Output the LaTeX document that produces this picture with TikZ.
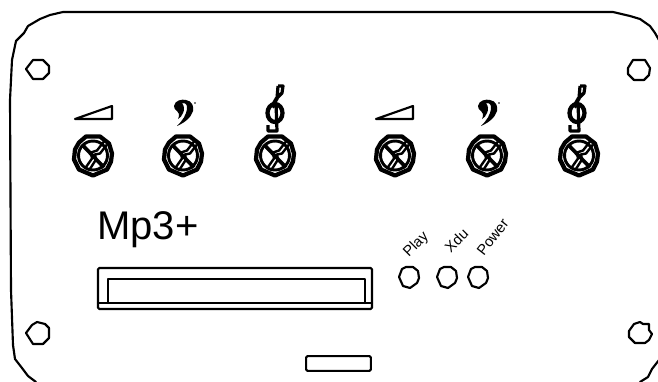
\documentclass[tikz,border=0pt]{standalone}
\usepackage{fontspec}
\setmainfont{Liberation Sans}
\tikzset{
  ln/.style={line width=1.6pt,line join=round,line cap=round},
  hole/.style={ln},
  vertical/.style={anchor=south west,inner sep=0pt,font=\fontsize{11}{12}\selectfont}
}
\newcommand{\myknob}[1]{%
\begin{scope}[shift={#1}]
 \draw[line width=3.2pt,line join=round] (-7,-19)--(7,-19)--(16,-12)--(19,-2)--(18,6)--(14,14)--(0,20)--(-14,14)--(-19,4)--(-18,-6)--(-14,-13)--cycle;
 \draw[line width=2.2pt] (0,0) circle (14.5);
 \draw[line width=2.8pt] (-11,-11)--(11,12);
 \draw[line width=1.8pt] (11,-14)--(4,-5)--(-2,-3)--(-1,3)--(-8,13);
 \draw[line width=1.8pt] (14,-11)--(7,-2)--(2,-1)--(3,4)--(-4,15);
\end{scope}}
\newcommand{\mywedge}[1]{%
\draw[ln,shift={#1}] (0,0)--(37,-13)--(37,0)--cycle;}
\newcommand{\mybass}[1]{%
\begin{scope}[shift={#1}]
 \fill (-11,-6) .. controls (-10,-12) and (-3,-13) .. (1,-12) .. controls (7,-11) and (9,-6) .. (8,-1)
   .. controls (6,6) and (-1,11) .. (-8,14) .. controls (-3,9) and (2,3) .. (2,-5)
   .. controls (2,-8) and (-1,-10) .. (-3,-9) .. controls (-1,-6) and (0,-3) .. (-2,1)
   .. controls (-3,4) and (-5,6) .. (-7,7) .. controls (-5,3) and (-6,0) .. (-8,-1) .. controls (-10,-2) and (-11,-4) .. (-11,-6) -- cycle;
 \fill (10,-9) circle (.8);
\end{scope}}
\newcommand{\mytreble}[1]{%
\begin{scope}[shift={#1}]
 \draw[line width=2.4pt,line join=round] (3,-27)--(8,-27)--(7,-20)--(2,-15)--(3,-27);
 \draw[line width=3pt,line join=round] (2,-15)--(-2,-8)--(0,-6);
 \draw[line width=2.4pt,line join=round] (1,-10)--(2,18)--(-7,18)--(-7,12);
 \draw[line width=3.2pt] (0,0) ellipse (7.5 and 9);
\end{scope}}
\begin{document}
\begin{tikzpicture}[x=0.75pt,y=-0.75pt]
\useasboundingbox (0,0) rectangle (658,382);
\begin{scope}
\clip (0,0) rectangle (658,382);
\draw[ln] (36,382) -- (28,376) -- (22,368) -- (15,359) -- (13,345) -- (11,290) -- (10,100) -- (12,60) -- (16,41) -- (24,33) -- (28,26) -- (40,19) -- (50,15) -- (63,12) -- (613,12) -- (630,16) -- (640,19) -- (650,26) -- (655,33) -- (659,40);
\draw[ln] (640,382) -- (648,377) -- (652,369) -- (659,360);
\end{scope}
% screw holes
\coordinate (tl) at (38,69);
\draw[hole,shift={(tl)}] (-12,0)--(-5,-9)--(5,-9)--(11,-3)--(11,4)--(5,10)--(-5,10)--cycle;
\coordinate (tr) at (639,70);
\draw[hole,shift={(tr)}] (-11,-2)--(-6,-10)--(6,-10)--(11,-2)--(10,5)--(5,10)--(-5,10)--(-11,4)--cycle;
\coordinate (bl) at (38,333);
\draw[hole,shift={(bl)}] (-12,0)--(-6,-8)--(-1,-11)--(7,-9)--(11,-5)--(11,5)--(5,11)--(-5,11)--cycle;
\coordinate (br) at (640,333);
\draw[hole,shift={(br)}] (-11,-2)--(-6,-9)--(0,-11)--(3,-9)--(9,-9)--(9,-3)--(12,1)--(9,7)--(5,10)--(-5,10)--(-11,4)--cycle;
% icons
\mywedge{(75,119)}
\mywedge{(376,119)}
\mybass{(185,112)}
\mybass{(489,112)}
\mytreble{(275,113)}
\mytreble{(577,113)}
\myknob{(93,155.5)}
\myknob{(183,155.5)}
\myknob{(275,155.5)}
\myknob{(395,155.5)}
\myknob{(487,155.5)}
\myknob{(579,155.5)}
\node[anchor=base west,inner sep=0pt,font=\fontsize{30}{30}\selectfont] (title) at (97,239) {Mp3+};
% slot
\coordinate (sa) at (98,268);
\coordinate (sb) at (372,309);
\coordinate (sc) at (98,303);
\coordinate (sd) at (372,303);
\draw[ln,rounded corners=1pt] (sa) rectangle (sb);
\draw[ln] (sc) -- (sd);
\draw[ln] (108,303) -- (108,279) -- (365,279) -- (365,303);
\node[draw,line width=1.6pt,rounded corners=1pt,minimum width=48.5pt,minimum height=11pt,inner sep=0pt] (connector) at (338.5,363.5) {};
% buttons
\foreach \n/\x in {a/409,b/447,c/478}{
 \draw[ln,shift={(\x,277)}] (-10,0)--(-7,-8)--(-3,-10)--(4,-10)--(9,-6)--(10,1)--(8,6)--(1,11)--(-6,9)--cycle;
}
\node[vertical,rotate=45] (lplay) at (411,260) {Play};
\node[vertical,rotate=45] (lxdu) at (451,254) {Xdu};
\node[vertical,rotate=52] (lpower) at (484,257) {Power};
\end{tikzpicture}
\end{document}
